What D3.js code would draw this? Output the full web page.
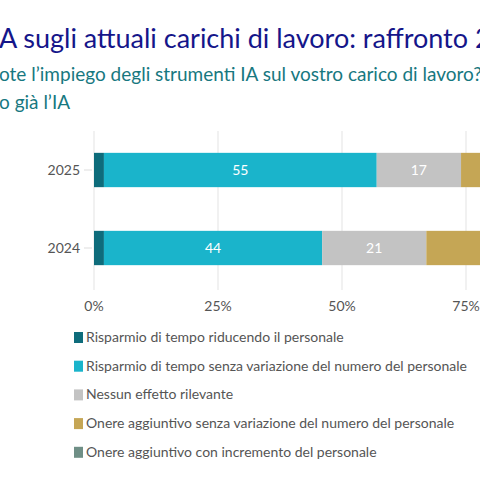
<!DOCTYPE html>
<html><head><meta charset="utf-8">
<script src="https://cdn.jsdelivr.net/npm/d3@7"></script>
<style>body{margin:0;background:#fff}</style>
</head><body>
<svg id="c" width="480" height="480"></svg>
<script>
var years = ["2025", "2024"];
var series = [
  "Risparmio di tempo riducendo il personale",
  "Risparmio di tempo senza variazione del numero del personale",
  "Nessun effetto rilevante",
  "Onere aggiuntivo senza variazione del numero del personale",
  "Onere aggiuntivo con incremento del personale"
];
var values2025 = [2, 55, 17, 24, 2];
var values2024 = [2, 44, 21, 30, 3];
var ticks = [0, 25, 50, 75, 100];
var colors = ["#0e6c7b", "#1ab4cb", "#c3c3c3", "#c5a655", "#6f8f86"];

var svg = d3.select("#c");
var font = "Lato,'Noto Sans',sans-serif";

svg.append("text").attr("x", -1).attr("y", 48)
  .style("font-family", font).style("font-size", "27px").attr("fill", "#15168a")
  .text("A sugli attuali carichi di lavoro: raffronto 2024–2025");
svg.append("text").attr("x", -1).attr("y", 81)
  .style("font-family", font).style("font-size", "19px").attr("fill", "#17787f")
  .text("ote l’impiego degli strumenti IA sul vostro carico di lavoro?");
svg.append("text").attr("x", -1).attr("y", 109)
  .style("font-family", font).style("font-size", "19px").attr("fill", "#17787f")
  .text("o già l’IA");

var x = d3.scaleLinear().domain([0, 100]).range([94, 590]);
var y = d3.scaleBand().domain(years).range([131, 287]).paddingInner(0.56).paddingOuter(0.28);

svg.append("g").selectAll("line").data(ticks).enter().append("line")
  .attr("x1", function(d) { return x(d); }).attr("x2", function(d) { return x(d); })
  .attr("y1", 131).attr("y2", 290).attr("stroke", "#e3e3e3");

svg.append("g").selectAll("text").data(ticks).enter().append("text")
  .attr("x", function(d) { return x(d); }).attr("y", 311).attr("text-anchor", "middle")
  .style("font-family", font).style("font-size", "14px").attr("fill", "#555")
  .text(function(d) { return d + "%"; });

var rows = [values2025, values2024];
rows.forEach(function(vals, r) {
  var yr = years[r], acc = 0;
  svg.append("line").attr("x1", 84).attr("x2", 92)
    .attr("y1", y(yr) + y.bandwidth() / 2).attr("y2", y(yr) + y.bandwidth() / 2).attr("stroke", "#ddd");
  svg.append("text").attr("x", 80).attr("y", y(yr) + y.bandwidth() / 2 + 5)
    .attr("text-anchor", "end").style("font-family", font).style("font-size", "14px").attr("fill", "#555")
    .text(yr);
  vals.forEach(function(v, i) {
    svg.append("rect").attr("x", x(acc)).attr("y", y(yr))
      .attr("width", x(acc + v) - x(acc)).attr("height", y.bandwidth()).attr("fill", colors[i]);
    if (v >= 5) {
      svg.append("text").attr("x", x(acc + v / 2)).attr("y", y(yr) + y.bandwidth() / 2 + 5)
        .attr("text-anchor", "middle").style("font-family", font).style("font-size", "14px")
        .attr("fill", "#fff").text(v);
    }
    acc += v;
  });
});

var lg = svg.append("g").selectAll("g").data(series).enter().append("g")
  .attr("transform", function(d, i) { return "translate(74," + (332 + i * 28.7) + ")"; });
lg.append("rect").attr("width", 9).attr("height", 11).attr("fill", function(d, i) { return colors[i]; });
lg.append("text").attr("x", 12).attr("y", 10).style("font-family", font).style("font-size", "14px")
  .attr("fill", "#555").text(function(d) { return d; });
</script>
</body></html>
